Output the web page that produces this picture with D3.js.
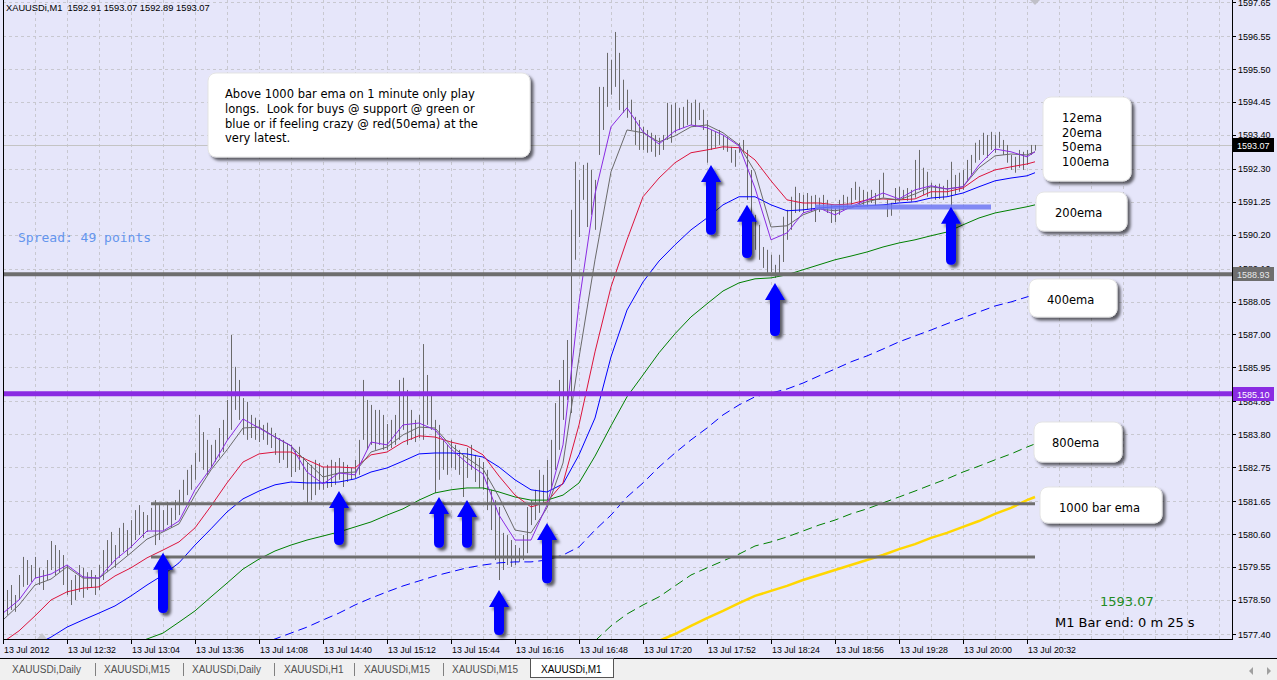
<!DOCTYPE html>
<html>
<head>
<meta charset="utf-8">
<script src="https://cdn.jsdelivr.net/npm/d3@7"></script>
<style>
body { margin: 0; background: #f0f0f0; overflow: hidden; }
svg { display: block; }
</style>
</head>
<body>
<div id="chart"></div>
<script>
// values
var titleText = "XAUUSDi,M1  1592.91 1593.07 1592.89 1593.07";

var timeLabels = ["13 Jul 2012", "13 Jul 12:32", "13 Jul 13:04", "13 Jul 13:36", "13 Jul 14:08",
    "13 Jul 14:40", "13 Jul 15:12", "13 Jul 15:44", "13 Jul 16:16", "13 Jul 16:48", "13 Jul 17:20",
    "13 Jul 17:52", "13 Jul 18:24", "13 Jul 18:56", "13 Jul 19:28", "13 Jul 20:00", "13 Jul 20:32"];

var priceLabels = ["1597.65", "1596.55", "1595.50", "1594.45", "1593.40", "1592.30", "1591.25",
    "1590.20", "1589.10", "1588.05", "1587.00", "1585.95", "1584.85", "1583.80", "1582.75",
    "1581.65", "1580.60", "1579.55", "1578.50", "1577.40"];

// one entry per bar
var barHigh = [
    1578.49, 1578.81, 1578.97, 1578.65, 1579.29, 1579.87, 1579.77, 1579.61, 1579.87, 1579.52, 1579.45, 1579.77, 1580.38, 1580.25, 1580.09, 1579.93,
    1579.61, 1579.13, 1579.29, 1579.61, 1579.52, 1579.38, 1579.45, 1579.29, 1579.61, 1580.09, 1580.41, 1580.67, 1580.25, 1580.80, 1580.96, 1580.73,
    1581.05, 1581.37, 1581.53, 1581.31, 1581.21, 1581.44, 1581.69, 1581.53, 1581.37, 1581.63, 1581.44, 1581.69, 1582.02, 1582.34, 1582.66, 1582.82,
    1583.20, 1584.42, 1583.87, 1583.62, 1583.46, 1583.62, 1584.00, 1584.26, 1584.90, 1586.98, 1585.96, 1585.54, 1584.96, 1584.84, 1584.42, 1584.33,
    1584.26, 1584.10, 1584.17, 1584.01, 1583.84, 1583.68, 1583.62, 1583.52, 1583.46, 1583.30, 1583.40, 1583.07, 1582.91, 1582.82, 1582.98, 1582.88,
    1582.75, 1582.82, 1582.98, 1582.91, 1583.04, 1582.91, 1582.82, 1582.72, 1582.98, 1583.62, 1585.54, 1584.90, 1584.74, 1584.58, 1584.58, 1584.42,
    1584.13, 1584.26, 1584.42, 1585.54, 1585.61, 1585.22, 1584.58, 1584.26, 1584.42, 1586.69, 1585.70, 1585.06, 1584.26, 1584.10, 1583.62, 1583.46,
    1583.62, 1583.46, 1583.30, 1583.14, 1583.36, 1583.46, 1583.14, 1583.04, 1582.91, 1582.66, 1582.02, 1581.69, 1581.47, 1580.64, 1580.57, 1580.41,
    1580.25, 1580.16, 1580.57, 1581.47, 1581.69, 1582.02, 1582.66, 1582.50, 1582.98, 1583.62, 1584.80, 1585.54, 1586.18, 1586.82, 1590.99, 1592.53,
    1591.95, 1592.43, 1592.50, 1592.27, 1591.95, 1594.93, 1594.93, 1596.02, 1595.80, 1596.69, 1596.02, 1595.16, 1594.84, 1594.52, 1593.97, 1593.87,
    1593.65, 1593.55, 1593.46, 1593.39, 1593.30, 1593.39, 1594.42, 1594.36, 1594.42, 1594.26, 1594.29, 1594.52, 1594.42, 1594.52, 1594.42, 1594.20,
    1593.87, 1593.55, 1593.49, 1593.55, 1593.39, 1593.33, 1593.01, 1592.91, 1593.14, 1593.23, 1592.91, 1592.27, 1590.83, 1590.51, 1589.80, 1589.71,
    1589.55, 1589.23, 1589.55, 1590.77, 1590.99, 1591.41, 1591.73, 1591.53, 1591.47, 1591.53, 1591.44, 1591.47, 1591.38, 1591.47, 1591.31, 1591.15,
    1591.05, 1591.31, 1591.47, 1591.41, 1591.69, 1591.89, 1591.73, 1591.63, 1591.57, 1591.63, 1591.53, 1591.95, 1592.18, 1591.31, 1591.21, 1591.69,
    1591.73, 1591.63, 1591.69, 1591.63, 1592.59, 1592.91, 1592.34, 1592.21, 1591.86, 1591.79, 1591.83, 1591.76, 1591.95, 1592.53, 1592.11, 1592.18,
    1592.27, 1592.59, 1592.75, 1593.14, 1593.23, 1593.46, 1593.39, 1593.49, 1593.39, 1593.49, 1593.23, 1593.07, 1592.75, 1592.69, 1592.91, 1592.85,
    1592.91, 1593.07, 1593.07];

var barLow = [
    1577.78, 1578.01, 1578.17, 1578.11, 1578.49, 1578.91, 1578.97, 1579.07, 1579.19, 1578.97, 1578.81, 1579.13, 1579.45, 1579.29, 1579.38, 1578.97,
    1578.65, 1578.33, 1578.49, 1578.75, 1578.56, 1578.81, 1578.88, 1578.65, 1578.81, 1579.13, 1579.38, 1579.61, 1579.52, 1579.84, 1580.03, 1579.93,
    1580.16, 1580.41, 1580.57, 1580.48, 1580.67, 1580.73, 1580.25, 1580.41, 1580.73, 1580.89, 1580.80, 1581.05, 1581.21, 1581.53, 1581.85, 1582.02,
    1582.34, 1582.92, 1582.66, 1582.50, 1582.73, 1582.92, 1583.05, 1583.23, 1583.62, 1583.94, 1584.58, 1584.26, 1583.78, 1583.62, 1583.68, 1583.62,
    1583.55, 1583.62, 1583.46, 1583.36, 1583.14, 1582.88, 1582.98, 1582.72, 1582.43, 1582.59, 1582.66, 1582.02, 1581.60, 1581.69, 1581.85, 1582.02,
    1582.02, 1582.08, 1582.11, 1582.18, 1582.34, 1582.11, 1582.27, 1582.34, 1582.40, 1582.50, 1583.62, 1583.30, 1583.46, 1583.30, 1583.46, 1583.30,
    1583.30, 1583.36, 1583.46, 1583.62, 1583.94, 1583.46, 1583.62, 1583.55, 1583.68, 1583.62, 1584.10, 1583.94, 1581.92, 1582.34, 1582.66, 1582.50,
    1582.72, 1582.66, 1582.50, 1581.79, 1582.40, 1582.66, 1582.27, 1582.08, 1582.02, 1581.37, 1580.73, 1579.77, 1579.13, 1579.45, 1579.61, 1579.55,
    1579.61, 1579.71, 1579.77, 1579.99, 1580.89, 1581.05, 1581.28, 1581.53, 1581.69, 1582.02, 1582.66, 1583.30, 1584.26, 1584.90, 1584.48, 1589.39,
    1590.12, 1591.31, 1590.44, 1590.83, 1590.35, 1592.75, 1593.55, 1594.29, 1594.68, 1594.93, 1594.19, 1594.10, 1593.94, 1593.55, 1593.07, 1592.91,
    1592.91, 1592.82, 1592.85, 1592.69, 1592.75, 1592.91, 1593.23, 1593.14, 1593.46, 1593.55, 1593.62, 1593.71, 1593.71, 1593.65, 1593.87, 1593.55,
    1592.50, 1592.91, 1592.98, 1593.07, 1592.91, 1592.85, 1592.50, 1592.37, 1592.82, 1592.85, 1591.31, 1590.03, 1589.71, 1589.39, 1589.13, 1588.97,
    1589.00, 1588.81, 1588.91, 1589.32, 1590.03, 1590.35, 1590.89, 1590.92, 1590.89, 1590.99, 1590.92, 1590.60, 1590.92, 1590.99, 1590.89, 1590.57,
    1590.60, 1590.83, 1590.99, 1591.05, 1591.15, 1591.31, 1591.18, 1591.15, 1591.08, 1591.21, 1591.12, 1591.31, 1591.38, 1590.76, 1590.80, 1591.21,
    1591.25, 1591.31, 1591.28, 1591.25, 1591.38, 1591.63, 1591.47, 1591.41, 1591.38, 1591.31, 1591.34, 1591.31, 1591.44, 1591.09, 1591.47, 1591.57,
    1591.63, 1591.95, 1592.11, 1592.50, 1592.59, 1592.75, 1592.66, 1592.91, 1592.82, 1592.98, 1592.75, 1592.50, 1592.27, 1592.18, 1592.34, 1592.27,
    1592.43, 1592.75, 1592.89];

// moving averages, sampled every 4th bar (plus the last bar)
var emaBars = d3.range(0, 257, 4).concat([258]);

var ema12 = [1578.07, 1578.49, 1579.19, 1579.32, 1579.61, 1579.23, 1579.19, 1579.77, 1580.19, 1580.70,
    1580.70, 1581.02, 1582.02, 1582.72, 1583.59, 1584.29, 1584.00, 1583.71, 1583.43, 1582.59,
    1582.21, 1582.56, 1582.50, 1583.55, 1583.46, 1584.10, 1584.16, 1583.94, 1583.33, 1582.88,
    1582.53, 1581.21, 1580.41, 1580.41, 1581.53, 1583.46, 1588.01, 1591.50, 1593.65, 1594.26,
    1593.49, 1593.10, 1593.52, 1593.71, 1593.62, 1593.39, 1593.04, 1591.69, 1590.03, 1590.25,
    1590.89, 1591.05, 1590.83, 1591.09, 1591.31, 1591.53, 1591.34, 1591.63, 1591.76, 1591.66,
    1591.73, 1592.43, 1592.94, 1592.85, 1592.69, 1592.85];

var ema20 = [1577.85, 1578.33, 1578.97, 1579.16, 1579.55, 1579.19, 1579.19, 1579.58, 1580.00, 1580.44,
    1580.67, 1580.93, 1581.85, 1582.66, 1583.30, 1584.00, 1584.03, 1583.71, 1583.43, 1582.91,
    1582.43, 1582.56, 1582.59, 1583.23, 1583.39, 1583.78, 1584.03, 1584.00, 1583.43, 1583.04,
    1582.69, 1581.79, 1580.73, 1580.64, 1581.44, 1582.88, 1586.25, 1589.39, 1592.21, 1593.55,
    1593.46, 1593.17, 1593.36, 1593.65, 1593.71, 1593.46, 1593.07, 1592.21, 1590.44, 1590.48,
    1590.83, 1591.02, 1590.96, 1591.05, 1591.25, 1591.37, 1591.31, 1591.50, 1591.73, 1591.66,
    1591.73, 1592.34, 1592.72, 1592.78, 1592.75, 1592.85];

var ema50 = [1577.14, 1577.50, 1577.98, 1578.49, 1578.75, 1578.87, 1578.91, 1579.26, 1579.52, 1579.84,
    1580.09, 1580.35, 1580.80, 1581.50, 1582.24, 1582.91, 1583.17, 1583.23, 1583.23, 1582.98,
    1582.75, 1582.75, 1582.72, 1583.14, 1583.23, 1583.55, 1583.75, 1583.71, 1583.55, 1583.43,
    1583.14, 1582.46, 1581.85, 1581.47, 1581.63, 1582.24, 1584.10, 1586.44, 1588.52, 1590.03,
    1591.41, 1592.01, 1592.50, 1592.82, 1592.91, 1593.01, 1592.98, 1592.59, 1591.92, 1591.31,
    1591.21, 1591.21, 1591.15, 1591.18, 1591.31, 1591.34, 1591.31, 1591.34, 1591.57, 1591.57,
    1591.69, 1592.05, 1592.27, 1592.37, 1592.46, 1592.53];

var ema100 = [1576.57, 1576.82, 1577.05, 1577.30, 1577.62, 1577.85, 1578.07, 1578.30, 1578.62, 1578.97,
    1579.29, 1579.68, 1580.25, 1580.77, 1581.31, 1581.73, 1581.98, 1582.18, 1582.27, 1582.24,
    1582.24, 1582.27, 1582.37, 1582.59, 1582.72, 1582.94, 1583.17, 1583.20, 1583.20, 1583.17,
    1583.07, 1582.75, 1582.34, 1582.02, 1581.95, 1582.21, 1583.14, 1584.32, 1586.28, 1587.78,
    1588.68, 1589.35, 1589.87, 1590.35, 1590.73, 1591.15, 1591.41, 1591.41, 1591.15, 1590.96,
    1590.99, 1591.05, 1591.09, 1591.09, 1591.12, 1591.15, 1591.21, 1591.25, 1591.37, 1591.41,
    1591.53, 1591.73, 1591.92, 1592.01, 1592.08, 1592.18];

var ema200 = [null, null, null, null, null, null, null, null, 1577.05, 1577.24,
    1577.43, 1577.78, 1578.14, 1578.59, 1579.03, 1579.48, 1579.80, 1580.06, 1580.25, 1580.41,
    1580.54, 1580.67, 1580.83, 1580.99, 1581.21, 1581.41, 1581.69, 1581.92, 1582.02, 1582.08,
    1582.08, 1581.95, 1581.79, 1581.69, 1581.69, 1581.85, 1582.24, 1583.10, 1584.07, 1585.00,
    1585.70, 1586.41, 1587.02, 1587.56, 1587.98, 1588.39, 1588.65, 1588.78, 1588.81, 1588.91,
    1589.07, 1589.23, 1589.39, 1589.51, 1589.64, 1589.80, 1589.93, 1590.03, 1590.16, 1590.28,
    1590.51, 1590.73, 1590.89, 1590.99, 1591.09, 1591.15];

var ema400 = [null, null, null, null, null, null, null, null, null, null,
    null, null, null, null, null, null, 1577.05, 1577.24, 1577.43, 1577.62,
    1577.85, 1578.07, 1578.33, 1578.55, 1578.75, 1578.94, 1579.10, 1579.26, 1579.39, 1579.52,
    1579.61, 1579.68, 1579.71, 1579.71, 1579.77, 1579.93, 1580.19, 1580.73, 1581.21, 1581.79,
    1582.24, 1582.75, 1583.20, 1583.62, 1584.00, 1584.42, 1584.74, 1585.00, 1585.12, 1585.25,
    1585.44, 1585.67, 1585.89, 1586.12, 1586.31, 1586.53, 1586.76, 1586.95, 1587.14, 1587.34,
    1587.53, 1587.72, 1587.91, 1588.04, 1588.20, 1588.26];

var ema800 = [null, null, null, null, null, null, null, null, null, null,
    null, null, null, null, null, null, null, null, null, null,
    null, null, null, null, null, null, null, null, null, null,
    null, null, null, null, null, null, null, 1577.18, 1577.66, 1578.04,
    1578.33, 1578.59, 1578.94, 1579.29, 1579.52, 1579.74, 1579.96, 1580.22, 1580.35, 1580.51,
    1580.70, 1580.89, 1581.05, 1581.25, 1581.41, 1581.60, 1581.79, 1581.98, 1582.18, 1582.37,
    1582.59, 1582.78, 1582.98, 1583.17, 1583.39, 1583.49];

var ema1000 = [null, null, null, null, null, null, null, null, null, null,
    null, null, null, null, null, null, null, null, null, null,
    null, null, null, null, null, null, null, null, null, null,
    null, null, null, null, null, null, null, null, null, null,
    null, 1577.18, 1577.40, 1577.66, 1577.91, 1578.14, 1578.39, 1578.62, 1578.78, 1578.94,
    1579.13, 1579.29, 1579.45, 1579.61, 1579.77, 1579.93, 1580.12, 1580.28, 1580.48, 1580.64,
    1580.83, 1581.02, 1581.25, 1581.44, 1581.69, 1581.79];

// horizontal objects
var levelPrices = [1588.93, 1585.10];
var levelLabels = ["1588.93", "1585.10"];
var supportPrices = [1581.57, 1579.87];
var supportFromBar = 37;
var zonePrice = 1591.08;
var zoneBars = [203, 247];
var lastPrice = 1593.07;

// buy arrows: bar, tip price, base price
var arrowBar = [40, 84, 109, 116, 124, 136, 177, 186, 193, 237];
var arrowTip = [1580.00, 1581.98, 1581.79, 1581.69, 1578.81, 1580.96, 1592.43, 1591.15, 1588.65, 1591.09];
var arrowBase = [1578.07, 1580.25, 1580.16, 1580.16, 1577.37, 1579.03, 1590.19, 1589.45, 1586.95, 1589.23];

var noteLines = ["Above 1000 bar ema on 1 minute only play",
    "longs.  Look for buys @ support @ green or",
    "blue or if feeling crazy @ red(50ema) at the",
    "very latest."];
var legendLines = ["12ema", "20ema", "50ema", "100ema"];
var tabNames = ["XAUUSDi,Daily", "XAUUSDi,M15", "XAUUSDi,Daily", "XAUUSDi,H1", "XAUUSDi,M15", "XAUUSDi,M15", "XAUUSDi,M1"];

// ---- drawing ----
var width = 1277;
var height = 680;
var plotLeft = 3, plotRight = 1232, plotBottom = 639;

var svg = d3.select("#chart").append("svg")
    .attr("width", width)
    .attr("height", height);

var x = d3.scaleLinear().domain([0, 258]).range([3, 1035]);
var y = d3.scaleLinear().domain([1577.40, 1597.65]).range([634, 2]);

var defs = svg.append("defs");
defs.append("clipPath").attr("id", "plot")
    .append("rect")
    .attr("x", plotLeft).attr("y", 0)
    .attr("width", plotRight - plotLeft).attr("height", plotBottom);

var shadow = defs.append("filter").attr("id", "shadow")
    .attr("x", "-20%").attr("y", "-30%").attr("width", "150%").attr("height", "170%");
shadow.append("feDropShadow")
    .attr("dx", 3).attr("dy", 3).attr("stdDeviation", 1.4)
    .attr("flood-color", "#000").attr("flood-opacity", 0.6);

// background
svg.append("rect").attr("width", width).attr("height", 659).attr("fill", "#e6e6fa");
svg.append("rect").attr("y", 659).attr("width", width).attr("height", 21).attr("fill", "#f0f0f0");

// grid
var grid = svg.append("g").attr("clip-path", "url(#plot)")
    .attr("stroke", "#c8c8d0").attr("stroke-dasharray", "3,3");
grid.selectAll("line.h").data(priceLabels).join("line")
    .attr("class", "h")
    .attr("x1", plotLeft).attr("x2", plotRight)
    .attr("y1", function (d) { return Math.round(y(+d)) + 0.5; })
    .attr("y2", function (d) { return Math.round(y(+d)) + 0.5; });
grid.selectAll("line.v").data(d3.range(1, 39)).join("line")
    .attr("class", "v")
    .attr("y1", 0).attr("y2", plotBottom)
    .attr("x1", function (d) { return Math.round(x(d * 8)) + 0.5; })
    .attr("x2", function (d) { return Math.round(x(d * 8)) + 0.5; });

var plot = svg.append("g").attr("clip-path", "url(#plot)");

// bid line
plot.append("line")
    .attr("x1", plotLeft).attr("x2", plotRight)
    .attr("y1", Math.round(y(lastPrice)) + 0.5).attr("y2", Math.round(y(lastPrice)) + 0.5)
    .attr("stroke", "#c4c4c4");

// price bars
plot.append("g").selectAll("line").data(barHigh).join("line")
    .attr("x1", function (d, i) { return Math.round(x(i)) + 0.5; })
    .attr("x2", function (d, i) { return Math.round(x(i)) + 0.5; })
    .attr("y1", function (d) { return y(d); })
    .attr("y2", function (d, i) { return Math.max(y(barLow[i]), y(d) + 1); })
    .attr("stroke", "#6a6a6a")
    .attr("stroke-width", 1);

// moving averages
function emaPath(values, color, w, dash) {
    var line = d3.line()
        .defined(function (d) { return d.v != null; })
        .x(function (d) { return x(d.i); })
        .y(function (d) { return y(d.v); });
    var pts = emaBars.map(function (b, k) { return { i: b, v: values[k] }; });
    plot.append("path")
        .datum(pts)
        .attr("d", line)
        .attr("fill", "none")
        .attr("stroke", color)
        .attr("stroke-width", w)
        .attr("stroke-dasharray", dash || null);
}
emaPath(ema1000, "#ffd700", 2.5);
emaPath(ema800, "#008000", 1, "9,5");
emaPath(ema400, "#0000ff", 1, "9,5");
emaPath(ema200, "#008000", 1);
emaPath(ema100, "#0000ff", 1);
emaPath(ema50, "#dc143c", 1);
emaPath(ema20, "#6a6a6a", 1);
emaPath(ema12, "#8a2be2", 1);

// drawn levels
plot.selectAll("line.support").data(supportPrices).join("line")
    .attr("class", "support")
    .attr("x1", x(supportFromBar)).attr("x2", x(258))
    .attr("y1", function (d) { return y(d); })
    .attr("y2", function (d) { return y(d); })
    .attr("stroke", "#6e6e6e").attr("stroke-width", 3);

plot.append("line")
    .attr("x1", x(zoneBars[0])).attr("x2", x(zoneBars[1]))
    .attr("y1", y(zonePrice)).attr("y2", y(zonePrice))
    .attr("stroke", "#6f78f2").attr("stroke-opacity", 0.85).attr("stroke-width", 5);

var levelColors = ["#6e6e6e", "#8a2be2"];
var levelWidths = [4, 5];
plot.selectAll("line.level").data(levelPrices).join("line")
    .attr("class", "level")
    .attr("x1", plotLeft).attr("x2", plotRight)
    .attr("y1", function (d) { return y(d); })
    .attr("y2", function (d) { return y(d); })
    .attr("stroke", function (d, i) { return levelColors[i]; })
    .attr("stroke-width", function (d, i) { return levelWidths[i]; });

// buy arrows
var arrows = svg.append("g").attr("filter", "url(#shadow)");
arrowBar.forEach(function (b, i) {
    var cx = x(b), top = y(arrowTip[i]), bot = y(arrowBase[i]);
    var head = 17, hw = 10, sw = 5;
    var p = "M" + cx + "," + top +
        " L" + (cx + hw) + "," + (top + head) +
        " L" + (cx + sw) + "," + (top + head) +
        " L" + (cx + sw) + "," + (bot - sw) +
        " Q" + (cx + sw) + "," + bot + " " + cx + "," + bot +
        " Q" + (cx - sw) + "," + bot + " " + (cx - sw) + "," + (bot - sw) +
        " L" + (cx - sw) + "," + (top + head) +
        " L" + (cx - hw) + "," + (top + head) + " Z";
    arrows.append("path").attr("d", p).attr("fill", "#0000ff");
});

// frame
svg.append("line").attr("x1", plotLeft + 0.5).attr("x2", plotLeft + 0.5)
    .attr("y1", 0).attr("y2", plotBottom + 0.5).attr("stroke", "#000");
svg.append("line").attr("x1", plotRight + 0.5).attr("x2", plotRight + 0.5)
    .attr("y1", 0).attr("y2", plotBottom + 0.5).attr("stroke", "#000");
svg.append("line").attr("x1", plotLeft).attr("x2", plotRight + 1)
    .attr("y1", plotBottom + 0.5).attr("y2", plotBottom + 0.5).attr("stroke", "#000");

// shift markers
svg.append("path").attr("d", "M1030,0 L1040,0 L1035,5 Z").attr("fill", "#c0c0c8");
svg.append("path").attr("d", "M37,639 L47,639 L42,633 Z").attr("fill", "#c8c8d0");

// price axis
var priceAxis = svg.append("g").attr("font-family", "'Liberation Sans', Arial, sans-serif")
    .attr("font-size", 9).attr("fill", "#000");
priceAxis.selectAll("line").data(priceLabels).join("line")
    .attr("x1", plotRight).attr("x2", plotRight + 4)
    .attr("y1", function (d) { return Math.round(y(+d)) + 0.5; })
    .attr("y2", function (d) { return Math.round(y(+d)) + 0.5; })
    .attr("stroke", "#000");
priceAxis.selectAll("text").data(priceLabels).join("text")
    .attr("x", 1238)
    .attr("y", function (d) { return y(+d) + 3.5; })
    .text(function (d) { return d; });

// value boxes on the price axis
function priceBox(price, label, bg, fg) {
    var cy = Math.round(y(price));
    svg.append("rect").attr("x", 1233).attr("y", cy - 7).attr("width", 41).attr("height", 14).attr("fill", bg);
    svg.append("text").attr("x", 1237).attr("y", cy + 3.5)
        .attr("font-family", "'Liberation Sans', Arial, sans-serif").attr("font-size", 9)
        .attr("fill", fg).text(label);
}
priceBox(lastPrice, "1593.07", "#000", "#fff");
priceBox(levelPrices[0], levelLabels[0], "#6e6e6e", "#e8e8e8");
priceBox(levelPrices[1], levelLabels[1], "#8a2be2", "#fff");

// time axis
var timeAxis = svg.append("g").attr("font-family", "'Liberation Sans', Arial, sans-serif")
    .attr("font-size", 8.8).attr("fill", "#000");
timeAxis.selectAll("line").data(timeLabels).join("line")
    .attr("x1", function (d, i) { return Math.round(x(i * 16)) + 0.5; })
    .attr("x2", function (d, i) { return Math.round(x(i * 16)) + 0.5; })
    .attr("y1", plotBottom).attr("y2", plotBottom + 5)
    .attr("stroke", "#000");
timeAxis.selectAll("text").data(timeLabels).join("text")
    .attr("x", function (d, i) { return x(i * 16) + 1; })
    .attr("y", 653)
    .text(function (d) { return d; });

// header and info text
svg.append("text").attr("x", 6).attr("y", 10.5)
    .attr("font-family", "'Liberation Sans', Arial, sans-serif").attr("font-size", 9.3)
    .style("white-space", "pre").text(titleText);

svg.append("text").attr("x", 18).attr("y", 242)
    .attr("font-family", "'DejaVu Sans Mono', monospace").attr("font-size", 13)
    .attr("fill", "#6495ed").text("Spread: 49 points");

svg.append("text").attr("x", 1100).attr("y", 606)
    .attr("font-family", "'DejaVu Sans', sans-serif").attr("font-size", 13)
    .attr("fill", "#228b22").text("1593.07");
svg.append("text").attr("x", 1055).attr("y", 627)
    .attr("font-family", "'DejaVu Sans', sans-serif").attr("font-size", 13)
    .attr("fill", "#000").text("M1 Bar end: 0 m 25 s");

// callouts
function callout(bx, by, bw, bh, lines, tx, ty, lh) {
    var g = svg.append("g");
    g.append("rect").attr("x", bx).attr("y", by).attr("width", bw).attr("height", bh)
        .attr("rx", 8).attr("fill", "#fff").attr("stroke", "#e4e4e4")
        .attr("filter", "url(#shadow)");
    g.selectAll("text").data(lines).join("text")
        .attr("x", tx)
        .attr("y", function (d, i) { return ty + i * lh; })
        .attr("font-family", "'DejaVu Sans', sans-serif").attr("font-size", 11.5)
        .attr("fill", "#000").style("white-space", "pre")
        .text(function (d) { return d; });
}
callout(208, 73, 322, 84, noteLines, 225, 98, 14.8);
callout(1043, 97, 88, 84, legendLines, 1062, 122, 14.6);
callout(1036, 192, 91, 39, ["200ema"], 1055, 217, 0);
callout(1029, 279, 88, 38, ["400ema"], 1047, 304, 0);
callout(1034, 422, 88, 40, ["800ema"], 1052, 447, 0);
callout(1040, 487, 122, 36, ["1000 bar ema"], 1059, 512, 0);

// bottom tabs
svg.append("line").attr("x1", 0).attr("x2", width).attr("y1", 658.5).attr("y2", 658.5).attr("stroke", "#000");
var tabX = [12, 104, 192, 284, 364, 452, 541];
var sepX = [95, 183, 274, 354, 443];
svg.append("rect").attr("x", 530.5).attr("y", 658.5).attr("width", 83).attr("height", 19)
    .attr("fill", "#fff").attr("stroke", "#555");
svg.selectAll("line.sep").data(sepX).join("line")
    .attr("class", "sep")
    .attr("x1", function (d) { return d + 0.5; }).attr("x2", function (d) { return d + 0.5; })
    .attr("y1", 663).attr("y2", 676).attr("stroke", "#808080");
svg.selectAll("text.tab").data(tabNames).join("text")
    .attr("class", "tab")
    .attr("x", function (d, i) { return tabX[i]; })
    .attr("y", 673)
    .attr("font-family", "'Liberation Sans', Arial, sans-serif").attr("font-size", 10)
    .attr("fill", function (d, i) { return i === tabNames.length - 1 ? "#000" : "#505050"; })
    .text(function (d) { return d; });
svg.append("path").attr("d", "M1253,667 L1253,675 L1249,671 Z").attr("fill", "#a0a0a0");
svg.append("path").attr("d", "M1267,667 L1267,675 L1271,671 Z").attr("fill", "#a0a0a0");
</script>
</body>
</html>
